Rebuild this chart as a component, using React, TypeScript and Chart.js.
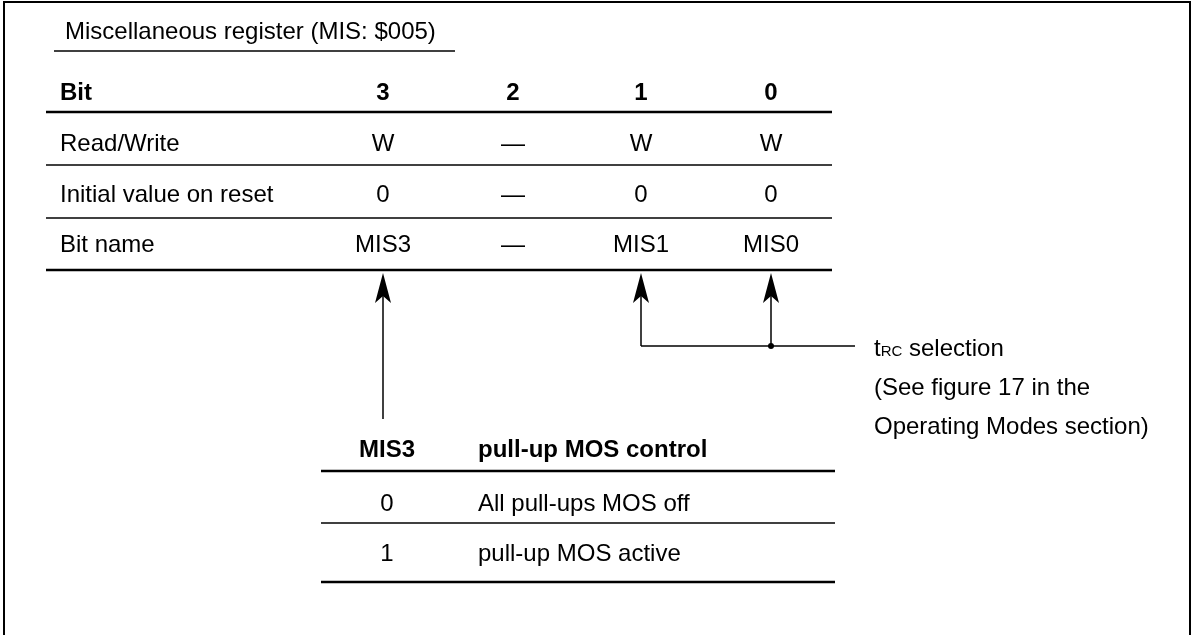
import React, { useEffect, useRef } from "react";
import { Chart, registerables } from "chart.js";
Chart.register(...registerables);

// ---- content ----
const title = "Miscellaneous register (MIS: $005)";
const rowLabels = ["Bit", "Read/Write", "Initial value on reset", "Bit name"];
const bitNumbers = ["3", "2", "1", "0"];
const readWrite = ["W", "—", "W", "W"];
const initialValues = ["0", "—", "0", "0"];
const bitNames = ["MIS3", "—", "MIS1", "MIS0"];
const mis3Header = ["MIS3", "pull-up MOS control"];
const mis3Values = ["0", "1"];
const mis3Descriptions = ["All pull-ups MOS off", "pull-up MOS active"];
const noteSymbol = ["t", "RC"];
const noteLines = [" selection", "(See figure 17 in the", "Operating Modes section)"];

// ---- layout (scale units) ----
const W = 1195;
const H = 635;
const FONT = "'Liberation Sans', Arial, sans-serif";
const FS = 24;

const colX = [383, 513, 641, 771];
const rowY = [91, 142, 193, 243];
const labelX = 60;
const regRules = [
  { y: 112, w: 2.5 },
  { y: 165, w: 1.5 },
  { y: 218, w: 1.5 },
  { y: 270, w: 2.5 },
];
const regX0 = 46;
const regX1 = 832;

const subColX = 387;
const subDescX = 478;
const subRowY = [448, 502, 552];
const subRules = [
  { y: 471, w: 2.5 },
  { y: 523, w: 1.5 },
  { y: 582, w: 2.5 },
];
const subX0 = 321;
const subX1 = 835;

const noteX = 874;
const noteY = [347, 386, 425];

const diagramPlugin = {
  id: "diagram",
  afterDraw(chart: any) {
    const ctx: CanvasRenderingContext2D = chart.ctx;
    const xs = chart.scales.x;
    const ys = chart.scales.y;
    const px = (v: number) => xs.getPixelForValue(v);
    const py = (v: number) => ys.getPixelForValue(v);
    const base = (c: number, size = FS) => py(c) + size * 0.36;

    ctx.save();
    ctx.fillStyle = "#000";
    ctx.strokeStyle = "#000";

    const hline = (x0: number, x1: number, y: number, w: number) => {
      ctx.lineWidth = w;
      ctx.beginPath();
      ctx.moveTo(px(x0), py(y));
      ctx.lineTo(px(x1), py(y));
      ctx.stroke();
    };
    const vline = (x: number, y0: number, y1: number, w: number) => {
      ctx.lineWidth = w;
      ctx.beginPath();
      ctx.moveTo(px(x), py(y0));
      ctx.lineTo(px(x), py(y1));
      ctx.stroke();
    };
    const text = (s: string, x: number, cy: number, align: CanvasTextAlign, bold = false, size = FS) => {
      ctx.font = `${bold ? "bold " : ""}${size}px ${FONT}`;
      ctx.textAlign = align;
      ctx.textBaseline = "alphabetic";
      ctx.fillText(s, px(x), base(cy, size));
    };
    const arrow = (x: number, tipY: number) => {
      const tx = px(x);
      const ty = py(tipY);
      const len = 30;
      const hw = 8;
      ctx.beginPath();
      ctx.moveTo(tx, ty);
      ctx.lineTo(tx + hw, ty + len);
      ctx.lineTo(tx, ty + len - 7);
      ctx.lineTo(tx - hw, ty + len);
      ctx.closePath();
      ctx.fill();
    };

    // outer frame
    ctx.lineWidth = 2;
    ctx.strokeRect(px(4), py(2), px(1190) - px(4), py(660) - py(2));

    // title
    text(title, 65, 30, "left");
    hline(54, 455, 51, 1.5);

    // register table
    regRules.forEach((r) => hline(regX0, regX1, r.y, r.w));
    rowLabels.forEach((l, i) => text(l, labelX, rowY[i], "left", i === 0));
    const rows = [bitNumbers, readWrite, initialValues, bitNames];
    rows.forEach((row, ri) =>
      row.forEach((v, ci) => text(v, colX[ci], rowY[ri], "center", ri === 0))
    );

    // arrows
    const tip = 273;
    vline(colX[0], tip + 20, 419, 1.5);
    arrow(colX[0], tip);
    vline(colX[2], tip + 20, 346, 1.5);
    arrow(colX[2], tip);
    vline(colX[3], tip + 20, 346, 1.5);
    arrow(colX[3], tip);
    hline(colX[2], 855, 346, 1.5);
    ctx.beginPath();
    ctx.arc(px(colX[3]), py(346), 3, 0, Math.PI * 2);
    ctx.fill();

    // note
    ctx.font = `${FS}px ${FONT}`;
    ctx.textAlign = "left";
    const tW = ctx.measureText(noteSymbol[0]).width;
    text(noteSymbol[0], noteX, noteY[0], "left");
    ctx.font = `15px ${FONT}`;
    const rcW = ctx.measureText(noteSymbol[1]).width;
    ctx.fillText(noteSymbol[1], px(noteX) + tW, base(noteY[0]));
    text(noteLines[0], noteX + tW + rcW, noteY[0], "left");
    text(noteLines[1], noteX, noteY[1], "left");
    text(noteLines[2], noteX, noteY[2], "left");

    // MIS3 table
    subRules.forEach((r) => hline(subX0, subX1, r.y, r.w));
    text(mis3Header[0], subColX, subRowY[0], "center", true);
    text(mis3Header[1], subDescX, subRowY[0], "left", true);
    mis3Values.forEach((v, i) => {
      text(v, subColX, subRowY[i + 1], "center");
      text(mis3Descriptions[i], subDescX, subRowY[i + 1], "left");
    });

    ctx.restore();
  },
};

export default function App() {
  const ref = useRef<HTMLCanvasElement | null>(null);
  useEffect(() => {
    document.body.style.margin = "0";
    document.body.style.background = "#fff";
    if (!ref.current) return;
    const chart = new Chart(ref.current, {
      type: "scatter",
      data: { datasets: [{ data: [], showLine: false }] },
      options: {
        animation: false,
        responsive: false,
        devicePixelRatio: 1,
        layout: { padding: 0 },
        plugins: { legend: { display: false }, tooltip: { enabled: false } },
        scales: {
          x: { type: "linear", min: 0, max: W, display: false },
          y: { type: "linear", min: 0, max: H, reverse: true, display: false },
        },
      },
      plugins: [diagramPlugin],
    });
    return () => chart.destroy();
  }, []);
  return (
    <div style={{ width: W, height: H, background: "#fff" }}>
      <canvas ref={ref} width={W} height={H} style={{ display: "block" }} />
    </div>
  );
}
